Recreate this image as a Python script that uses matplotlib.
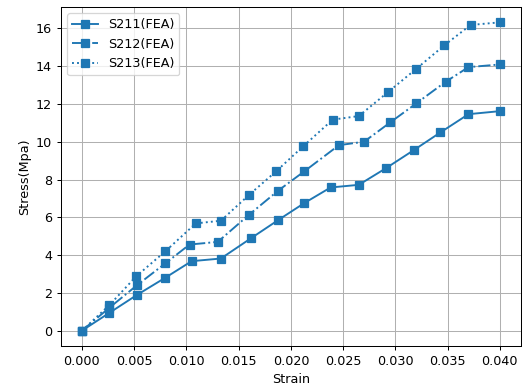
import matplotlib
matplotlib.use("Agg")
import matplotlib.pyplot as plt

x211 = [0, 0.00264, 0.00526, 0.0080, 0.0105, 0.0133, 0.0162, 0.0188, 0.0213, 0.0238, 0.0265, 0.0291, 0.0318, 0.0343, 0.0370, 0.0400]
y211 = [0, 0.95, 1.89, 2.81, 3.68, 3.82, 4.90, 5.86, 6.76, 7.58, 7.72, 8.60, 9.57, 10.49, 11.46, 11.62]

x212 = [0, 0.00264, 0.0053, 0.0080, 0.0103, 0.0130, 0.0160, 0.0188, 0.0213, 0.0246, 0.0270, 0.0295, 0.0320, 0.0348, 0.0370, 0.0400]
y212 = [0, 1.22, 2.42, 3.57, 4.56, 4.70, 6.14, 7.42, 8.44, 9.82, 10.00, 11.02, 12.03, 13.17, 13.95, 14.09]

x213 = [0, 0.00264, 0.0052, 0.0080, 0.0109, 0.0133, 0.0160, 0.0186, 0.0212, 0.0240, 0.0265, 0.0293, 0.0320, 0.0347, 0.0372, 0.0400]
y213 = [0, 1.36, 2.88, 4.21, 5.68, 5.82, 7.19, 8.44, 9.77, 11.17, 11.36, 12.63, 13.86, 15.11, 16.18, 16.32]

labels = ["S211(FEA)", "S212(FEA)", "S213(FEA)"]

DPI = 91.5
fig = plt.figure(figsize=(526/DPI, 385/DPI), dpi=DPI)
ax = fig.add_axes([0.116, 0.101, 0.874, 0.881])
c = "#1f77b4"
ax.plot(x211, y211, "-", marker="s", color=c, markersize=7, label=labels[0])
ax.plot(x212, y212, "-.", marker="s", color=c, markersize=7, label=labels[1])
ax.plot(x213, y213, ":", marker="s", color=c, markersize=7, label=labels[2])
ax.grid(True)
ax.set_xlabel("Strain")
ax.set_ylabel("Stress(Mpa)")
ax.legend(loc="upper left")
fig.savefig("out.png", dpi=DPI)
